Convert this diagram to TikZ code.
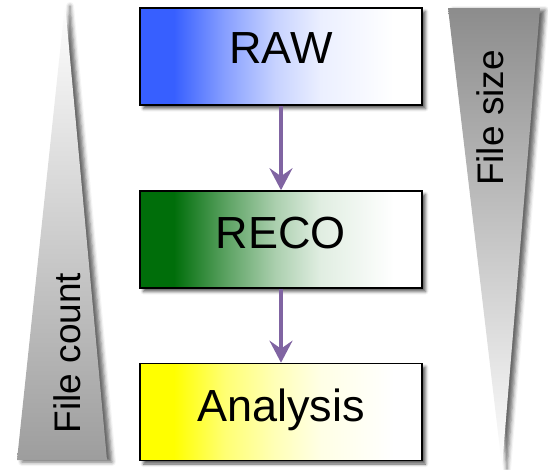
\documentclass[tikz,border=0pt]{standalone}
\usepackage{fontspec}
\setmainfont{Liberation Sans}
\usetikzlibrary{arrows.meta,shadows.blur}

\definecolor{rawblue}{RGB}{55,95,255}
\definecolor{recogreen}{RGB}{0,110,10}
\definecolor{anayellow}{RGB}{255,255,0}
\definecolor{flowpurple}{RGB}{128,100,162}
\definecolor{wedgegray}{RGB}{140,140,140}

% horizontal fades: full colour on the left, white towards the right
% (the node box is mapped onto the middle part, 25bp to 75bp)
\pgfdeclarehorizontalshading{rawshade}{100bp}{color(0bp)=(rawblue); color(31bp)=(rawblue); color(40bp)=(rawblue!60); color(49bp)=(rawblue!28); color(57bp)=(rawblue!10); color(70bp)=(white); color(100bp)=(white)}
\pgfdeclarehorizontalshading{recoshade}{100bp}{color(0bp)=(recogreen); color(31bp)=(recogreen); color(40bp)=(recogreen!65); color(49bp)=(recogreen!33); color(57bp)=(recogreen!12); color(70bp)=(white); color(100bp)=(white)}
\pgfdeclarehorizontalshading{anashade}{100bp}{color(0bp)=(anayellow); color(31bp)=(anayellow); color(40bp)=(anayellow!55); color(49bp)=(anayellow!28); color(57bp)=(anayellow!10); color(70bp)=(white); color(100bp)=(white)}

\tikzset{
  stage/.style={draw=black, line width=1.6pt, minimum width=282pt, minimum height=97pt,
    inner sep=0pt, blur shadow={shadow xshift=3.5pt, shadow yshift=-3.5pt, shadow blur radius=3pt, shadow opacity=65}},
  stagetext/.style={anchor=base, font=\fontsize{45}{50}\selectfont, text=black, inner sep=0pt},
  flow/.style={draw=flowpurple, line width=4pt, -{Stealth[length=22pt,width=23pt,inset=8pt]}},
  wedgetext/.style={rotate=90, font=\fontsize{37}{42}\selectfont, text=black, inner sep=0pt},
  wedgeshadow/.style={blur shadow={shadow xshift=5pt, shadow yshift=-2pt, shadow blur radius=4pt, shadow opacity=60}}
}

\begin{document}
\begin{tikzpicture}[x=1pt, y=-1pt]
  \useasboundingbox (0,0) rectangle (548,469);

  % wedges: file count grows downwards, file size shrinks downwards
  \shade[top color=white, bottom color=wedgegray!85, wedgeshadow]
    (65,4) -- (107,460) -- (17,460) -- cycle;
  \shade[top color=wedgegray, bottom color=white, wedgeshadow]
    (448,8) -- (540,8) -- (502,467) -- cycle;
  \node[wedgetext] (count) at (67,353) {File count};
  \node[wedgetext] (size) at (490,118) {File size};

  % processing stages
  \node[stage, shading=rawshade] (raw) at (281,56.5) {};
  \node[stage, shading=recoshade] (reco) at (281,239.5) {};
  \node[stage, shading=anashade] (ana) at (281,412) {};

  \node[stagetext] (rawlbl) at (281,63) {RAW};
  \node[stagetext] (recolbl) at (281,248) {RECO};
  \node[stagetext] (analbl) at (281,421) {Analysis};

  \draw[flow] (raw.south) -- (reco.north);
  \draw[flow] (reco.south) -- (ana.north);
\end{tikzpicture}
\end{document}
